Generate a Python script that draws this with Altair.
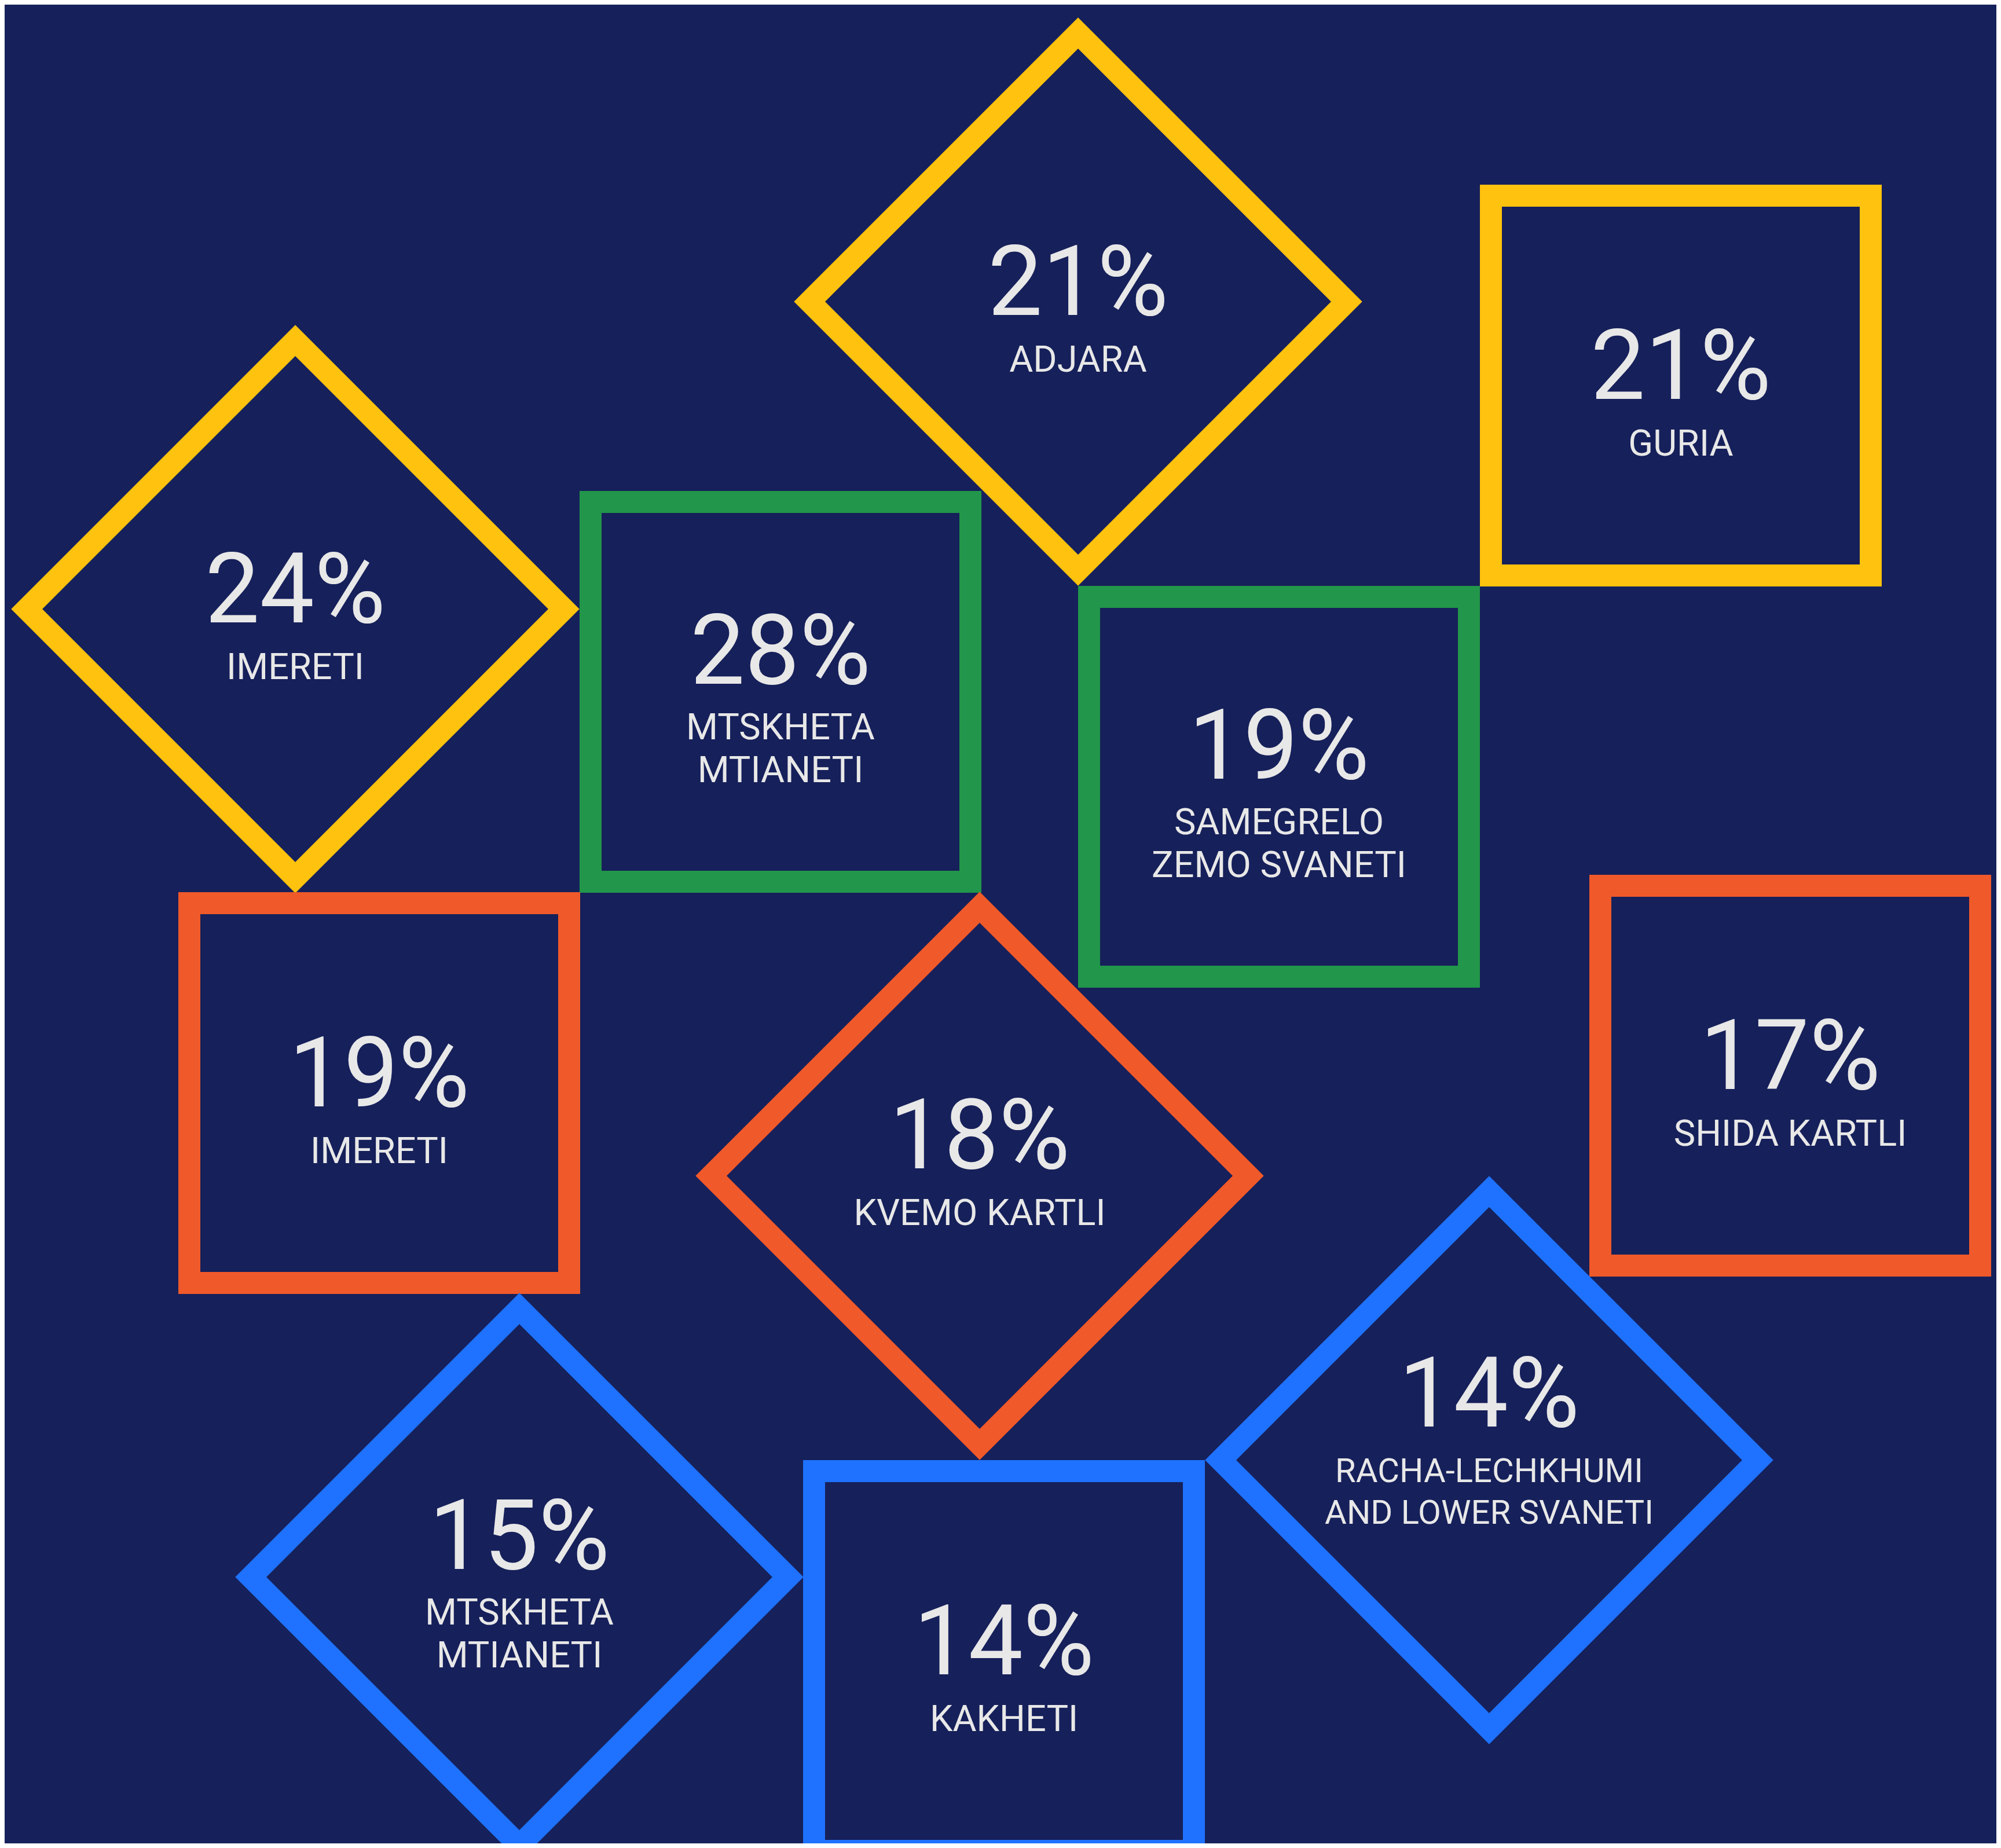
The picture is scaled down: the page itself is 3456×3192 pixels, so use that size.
import altair as alt
import pandas as pd

# ---- data ----
values = [21, 21, 24, 28, 19, 19, 18, 17, 15, 14, 14]
label_line1 = ["ADJARA", "GURIA", "IMERETI", "MTSKHETA", "SAMEGRELO", "IMERETI",
               "KVEMO KARTLI", "SHIDA KARTLI", "MTSKHETA", "KAKHETI", "RACHA-LECHKHUMI"]
label_line2 = ["", "", "", "MTIANETI", "ZEMO SVANETI", "", "", "", "MTIANETI", "",
               "AND LOWER SVANETI"]
group = ["yellow", "yellow", "yellow", "green", "green", "orange", "orange", "orange",
         "blue", "blue", "blue"]
shape_kind = ["diamond", "square", "diamond", "square", "square", "square", "diamond",
              "square", "diamond", "square", "diamond"]

# ---- layout (page pixel positions of each tile centre) ----
center_x = [1862, 2903, 510, 1348, 2209, 655, 1692, 3092, 897, 1734, 2572]
center_y = [521, 666, 1052, 1195, 1359, 1888, 2031, 1858, 2724, 2869, 2522]
block_shift = [0, 0, 0, 0, 0, 0, -36, 0, 0, 0, -44]

palette = {"yellow": "#FFC20E", "green": "#22964A", "orange": "#F0592A", "blue": "#1E72FF"}
BG = "#16205A"
TEXT = "#E8E8E8"
SIDE = 656          # centre-line side of each square
STROKE = 38
PCT_SIZE = 168
LAB_SIZE = 63

shape_rows = []
text_rows = []
for i in range(len(values)):
    size = SIDE ** 2 if shape_kind[i] == "square" else 2 * SIDE ** 2
    shape_rows.append({"x": center_x[i], "y": center_y[i], "shape": shape_kind[i],
                       "size": size, "color": palette[group[i]]})
    two = label_line2[i] != ""
    lab_size = 58 if len(label_line1[i]) > 13 else LAB_SIZE
    gap = 72 if lab_size == 58 else 74
    sh = block_shift[i]
    if two:
        pct_y, l1_y, l2_y = -14, 82, 82 + gap
    else:
        pct_y, l1_y, l2_y = 23, 121, None
    text_rows.append({"x": center_x[i], "y": center_y[i] + pct_y + sh,
                      "t": f"{values[i]}%", "fs": PCT_SIZE})
    text_rows.append({"x": center_x[i], "y": center_y[i] + l1_y + sh,
                      "t": label_line1[i], "fs": lab_size})
    if two:
        text_rows.append({"x": center_x[i], "y": center_y[i] + l2_y + sh,
                          "t": label_line2[i], "fs": lab_size})

shapes_df = pd.DataFrame(shape_rows)
text_df = pd.DataFrame(text_rows)

# the page has an 8px margin, so the plot area spans page pixels 8..3448 / 8..3184
xs = alt.Scale(domain=[8, 3448], nice=False, zero=False)
ys = alt.Scale(domain=[8, 3184], nice=False, zero=False, reverse=True)

tiles = alt.Chart(shapes_df).mark_point(
    filled=False, strokeWidth=STROKE, opacity=1, strokeOpacity=1
).encode(
    x=alt.X("x:Q", scale=xs, axis=None),
    y=alt.Y("y:Q", scale=ys, axis=None),
    shape=alt.Shape("shape:N", scale=None, legend=None),
    size=alt.Size("size:Q", scale=None, legend=None),
    color=alt.Color("color:N", scale=None, legend=None),
)

labels = alt.Chart(text_df).mark_text(
    font="Roboto", align="center", baseline="alphabetic", color=TEXT
).encode(
    x=alt.X("x:Q", scale=xs, axis=None),
    y=alt.Y("y:Q", scale=ys, axis=None),
    text="t:N",
    size=alt.Size("fs:Q", scale=None, legend=None),
)

chart = alt.layer(tiles, labels).properties(
    width=3440, height=3176, background=BG, padding=0, autosize="none"
).configure_view(stroke=None)

chart.save("out.html", embed_options={"renderer": "svg", "actions": False})
